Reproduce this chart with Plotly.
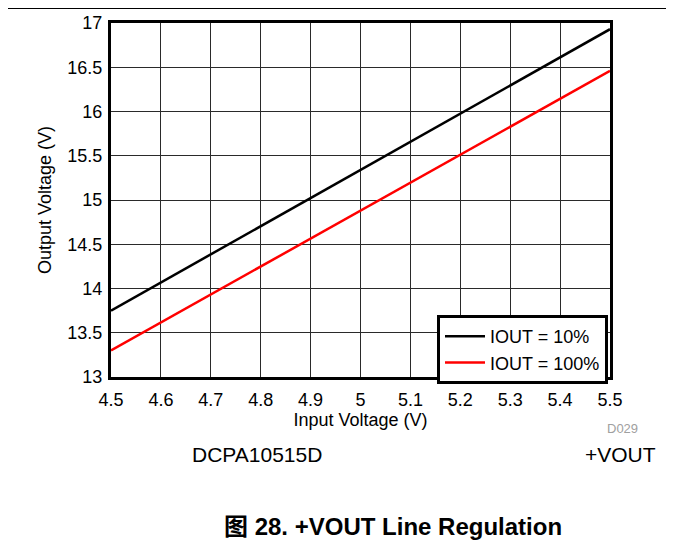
import plotly.graph_objects as go

# Data
vin = [4.5, 5.5]
vout_10 = [13.75, 16.93]
vout_100 = [13.30, 16.46]
series_names = ["IOUT = 10%", "IOUT = 100%"]
x_ticks = [4.5, 4.6, 4.7, 4.8, 4.9, 5.0, 5.1, 5.2, 5.3, 5.4, 5.5]
x_tick_labels = ["4.5", "4.6", "4.7", "4.8", "4.9", "5", "5.1", "5.2", "5.3", "5.4", "5.5"]
y_ticks = [13, 13.5, 14, 14.5, 15, 15.5, 16, 16.5, 17]
y_tick_labels = ["13", "13.5", "14", "14.5", "15", "15.5", "16", "16.5", "17"]

# The page body has an 8px default margin, so the figure is drawn 8px smaller
OFF = 8
W, H = 674 - OFF, 540 - OFF
# plot-area edges in window pixels
L, R, T, B = 111, 610, 23, 377
FONT = "Arial, 'Liberation Sans', 'Noto Sans CJK SC', sans-serif"


def px(x):
    return (x - L) / (R - L)


def py(y):
    return (B - y) / (B - T)


fig = go.Figure()
fig.add_trace(go.Scatter(x=vin, y=vout_10, mode="lines", name=series_names[0],
                         line=dict(color="black", width=2.5)))
fig.add_trace(go.Scatter(x=vin, y=vout_100, mode="lines", name=series_names[1],
                         line=dict(color="#ff0000", width=2.5)))

axis_common = dict(showline=True, linecolor="black", linewidth=3, mirror=True,
                   showgrid=True, gridcolor="#2a2a2a", gridwidth=1, zeroline=False,
                   ticks="", tickfont=dict(family=FONT, size=18, color="black"))

fig.update_xaxes(range=[4.5, 5.5], tickvals=x_ticks, ticktext=x_tick_labels, ticklabelstandoff=4,
                 title=dict(text="Input Voltage (V)", font=dict(family=FONT, size=18, color="black"), standoff=2),
                 **axis_common)
fig.update_yaxes(range=[13, 17], tickvals=y_ticks, ticktext=y_tick_labels, ticklabelstandoff=2,
                 title=dict(text="Output Voltage (V)", font=dict(family=FONT, size=18, color="black"), standoff=12),
                 **axis_common)

shapes = [
    dict(type="line", xref="paper", yref="paper", x0=px(0), x1=px(671), y0=py(8.3), y1=py(8.3),
         line=dict(color="black", width=1.5)),
    dict(type="line", xref="paper", yref="paper", x0=px(670), x1=px(670), y0=py(8), y1=py(545),
         line=dict(color="black", width=1.5)),
]

annotations = [
    dict(text="D029", x=px(640), y=py(428), xref="paper", yref="paper", xanchor="right", yanchor="middle",
         showarrow=False, font=dict(family=FONT, size=13, color="#a0a0a0")),
    dict(text="DCPA10515D", x=px(190), y=py(454), xref="paper", yref="paper", xanchor="left", yanchor="middle",
         showarrow=False, font=dict(family=FONT, size=21, color="black")),
    dict(text="+VOUT", x=px(658), y=py(454), xref="paper", yref="paper", xanchor="right", yanchor="middle",
         showarrow=False, font=dict(family=FONT, size=21, color="black")),
    dict(text="<b>图 28. +VOUT Line Regulation</b>", x=px(393), y=py(526), xref="paper", yref="paper",
         xanchor="center", yanchor="middle",
         showarrow=False, font=dict(family=FONT, size=24, color="black")),
]

fig.update_layout(
    width=W, height=H,
    margin=dict(l=L - OFF, r=W - (R - OFF), t=T - OFF, b=H - (B - OFF), autoexpand=False),
    paper_bgcolor="white", plot_bgcolor="white",
    font=dict(family=FONT, size=18, color="black"),
    showlegend=True,
    legend=dict(x=px(437), y=py(315), xanchor="left", yanchor="top",
                bgcolor="white", bordercolor="black", borderwidth=3,
                font=dict(family=FONT, size=18, color="black"),
                itemwidth=40, tracegroupgap=0),
    shapes=shapes,
    annotations=annotations,
)

fig.write_html("out.html")
